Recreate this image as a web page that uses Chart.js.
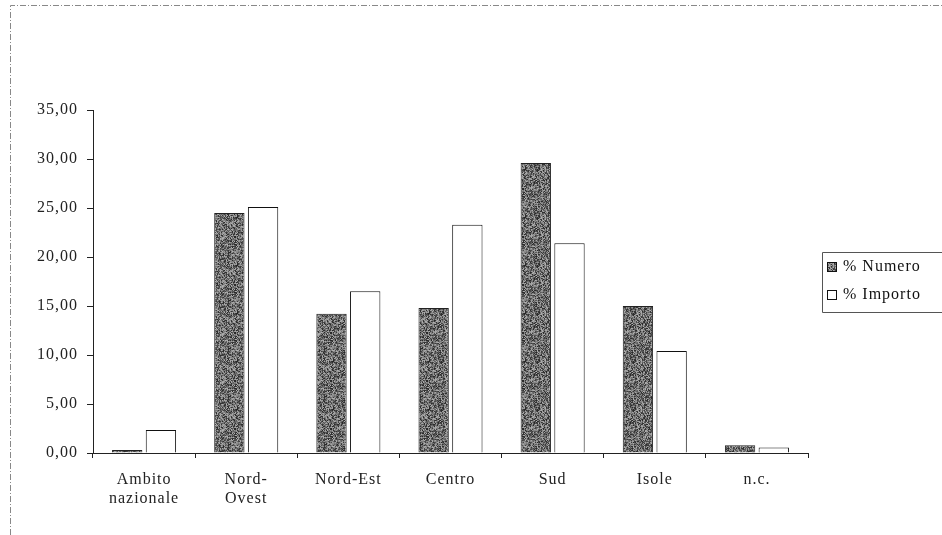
<!DOCTYPE html>
<html>
<head>
<meta charset="utf-8">
<script src="https://cdn.jsdelivr.net/npm/chart.js@4/dist/chart.umd.min.js"></script>
<style>
  body { margin: 0; background: #fff; }
  #wrap { width: 942px; height: 535px; position: relative; }
</style>
</head>
<body>
<div id="wrap"><canvas id="chart" width="942" height="535"></canvas></div>
<script>
// categories and values
const categories = [['Ambito', 'nazionale'], ['Nord-', 'Ovest'], 'Nord-Est', 'Centro', 'Sud', 'Isole', 'n.c.'];
const numero = [0.3, 24.5, 14.2, 14.8, 29.6, 15.0, 0.8];
const importo = [2.35, 25.1, 16.5, 23.3, 21.4, 10.4, 0.55];
const seriesNames = ['% Numero', '% Importo'];

// stippled grey texture for the dark bars (just a look, not data)
function makeStipple() {
    const c = document.createElement('canvas');
    c.width = 48; c.height = 48;
    const g = c.getContext('2d');
    const img = g.createImageData(48, 48);
    let s = 12345;
    for (let i = 0; i < 48 * 48; i++) {
        s = (s * 1103515245 + 12345) & 0x7fffffff;
        const v = 40 + (s % 140);
        img.data[i * 4] = v; img.data[i * 4 + 1] = v; img.data[i * 4 + 2] = v; img.data[i * 4 + 3] = 255;
    }
    g.putImageData(img, 0, 0);
    return document.getElementById('chart').getContext('2d').createPattern(c, 'repeat');
}
const stipple = makeStipple();

const serif = "'Liberation Serif', 'DejaVu Serif', serif";
const spacing = '1px';

// wide book-style lettering, frame round the figure and the boxed legend
const extras = {
    id: 'extras',
    beforeLayout(chart) { chart.ctx.letterSpacing = spacing; },
    beforeDraw(chart) {
        const ctx = chart.ctx;
        ctx.letterSpacing = spacing;
        ctx.save();
        ctx.strokeStyle = '#888';
        ctx.lineWidth = 1;
        ctx.setLineDash([6, 2, 1, 2]);
        ctx.beginPath();
        ctx.moveTo(10.5, 535); ctx.lineTo(10.5, 5.5); ctx.lineTo(942, 5.5);
        ctx.stroke();
        ctx.restore();
    },
    afterDraw(chart) {
        const ctx = chart.ctx;
        const x0 = 822, y0 = 252;
        ctx.save();
        ctx.strokeStyle = '#555';
        ctx.lineWidth = 1;
        ctx.beginPath();
        ctx.moveTo(942, y0 + 0.5); ctx.lineTo(x0 + 0.5, y0 + 0.5);
        ctx.lineTo(x0 + 0.5, y0 + 60.5); ctx.lineTo(942, y0 + 60.5);
        ctx.stroke();
        ctx.font = '16px ' + serif;
        ctx.textBaseline = 'middle';
        chart.data.datasets.forEach((ds, i) => {
            const y = y0 + 15 + i * 28;
            ctx.fillStyle = ds.backgroundColor;
            ctx.fillRect(x0 + 5, y - 5, 10, 10);
            ctx.strokeStyle = '#111';
            ctx.strokeRect(x0 + 5.5, y - 4.5, 9, 9);
            ctx.fillStyle = '#111';
            ctx.fillText(ds.label, x0 + 21, y);
        });
        ctx.restore();
    }
};

new Chart(document.getElementById('chart'), {
    type: 'bar',
    data: {
        labels: categories,
        datasets: [
            {
                label: seriesNames[0],
                data: numero,
                backgroundColor: stipple,
                borderColor: '#222',
                borderWidth: 1
            },
            {
                label: seriesNames[1],
                data: importo,
                backgroundColor: '#fff',
                borderColor: '#111',
                borderWidth: 1
            }
        ]
    },
    options: {
        responsive: false,
        animation: false,
        barPercentage: 0.9,
        categoryPercentage: 0.66,
        layout: { padding: { left: 10, right: 134, top: 110, bottom: 0 } },
        plugins: {
            legend: { display: false },
            tooltip: { enabled: false }
        },
        scales: {
            y: {
                min: 0,
                max: 35,
                ticks: {
                    stepSize: 5,
                    color: '#222',
                    font: { family: serif, size: 16 },
                    padding: 9,
                    callback: v => v.toFixed(2).replace('.', ',')
                },
                grid: { drawOnChartArea: false, tickLength: 6, color: '#222' },
                border: { color: '#222' },
                afterFit(scale) { scale.width = 83; }
            },
            x: {
                ticks: {
                    color: '#222',
                    font: { family: serif, size: 16, lineHeight: 1.15 },
                    padding: 13,
                    maxRotation: 0,
                    autoSkip: false
                },
                grid: { drawOnChartArea: false, tickLength: 5, color: '#222', offset: true },
                border: { color: '#222' },
                afterFit(scale) { scale.height = 82; }
            }
        }
    },
    plugins: [extras]
});
</script>
</body>
</html>
